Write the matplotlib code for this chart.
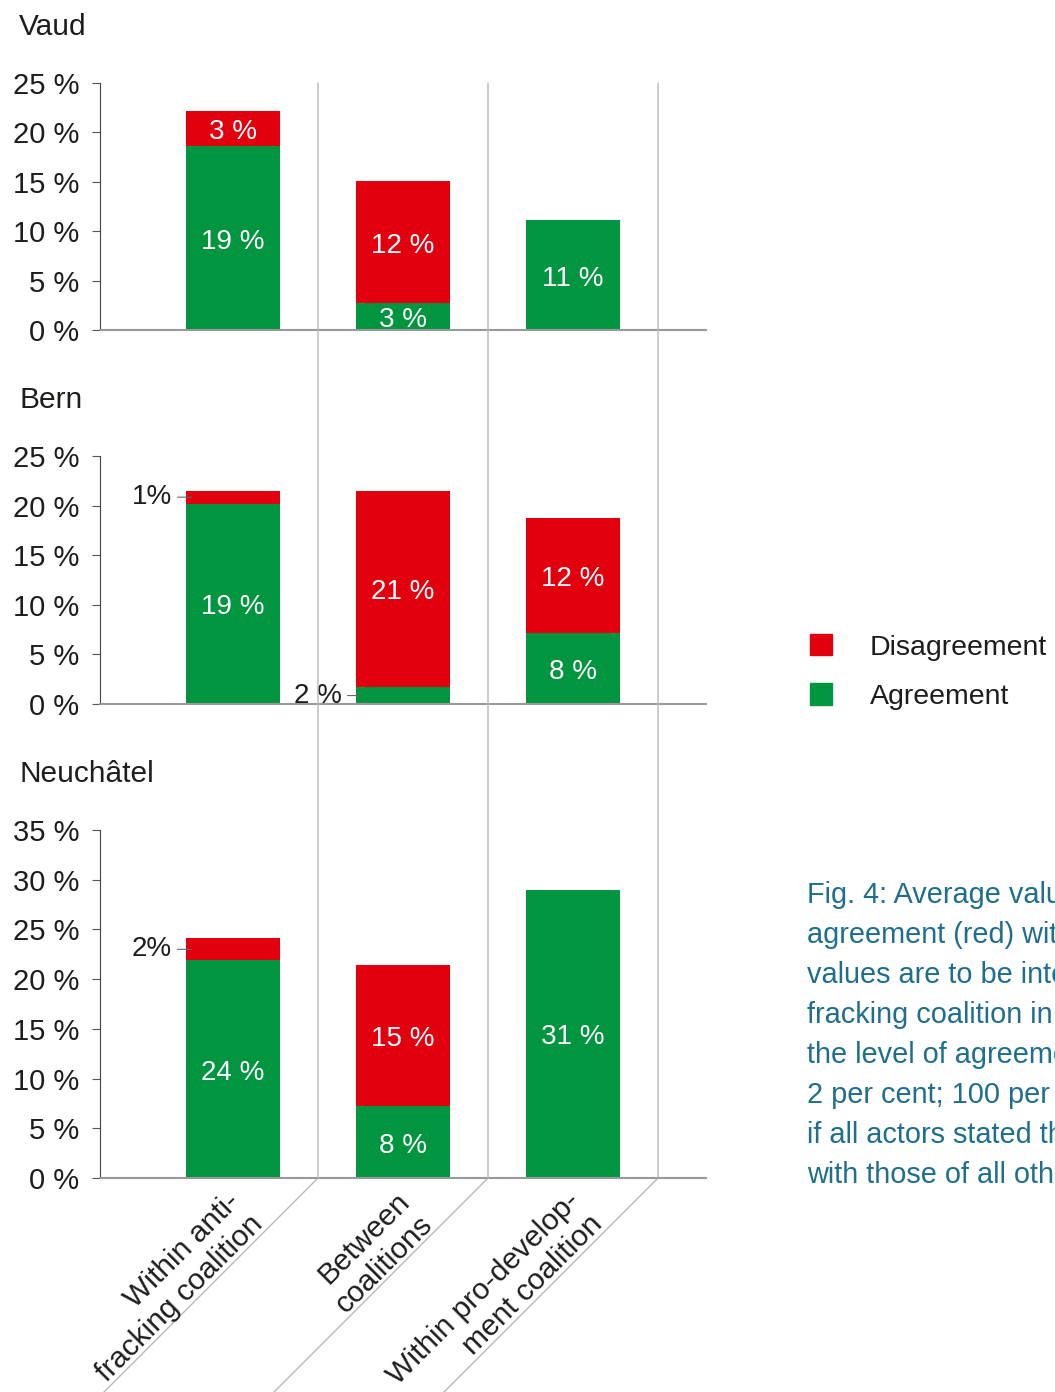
import matplotlib
matplotlib.use("Agg")
import matplotlib.pyplot as plt
from matplotlib.patches import Patch, ConnectionPatch
import numpy as np

plt.rcParams['font.family'] = ['Liberation Sans', 'DejaVu Sans']

# Data (percent)
regiones = ["Vaud", "Bern", "Neuchâtel"]
categorias = ["Within anti-\nfracking coalition", "Between\ncoalitions",
              "Within pro-develop-\nment coalition"]

acuerdo_vaud = [18.6, 2.7, 11.1]
desacuerdo_vaud = [3.6, 12.4, 0]
etiq_acuerdo_vaud = ["19 %", "3 %", "11 %"]
etiq_desacuerdo_vaud = ["3 %", "12 %", ""]

acuerdo_bern = [20.2, 1.7, 7.2]
desacuerdo_bern = [1.3, 19.8, 11.6]
etiq_acuerdo_bern = ["19 %", "2 %", "8 %"]
etiq_desacuerdo_bern = ["1%", "21 %", "12 %"]

acuerdo_neu = [21.9, 7.2, 29.0]
desacuerdo_neu = [2.2, 14.2, 0]
etiq_acuerdo_neu = ["24 %", "8 %", "31 %"]
etiq_desacuerdo_neu = ["2%", "15 %", ""]

ymax_paneles = [25, 25, 35]

leyenda = ["Disagreement", "Agreement"]
pie = ["Fig. 4: Average values",
       "agreement (red) within",
       "values are to be interpreted",
       "fracking coalition in",
       "the level of agreement",
       "2 per cent; 100 per cent",
       "if all actors stated their",
       "with those of all other"]

rojo = '#e2000f'
verde = '#00953e'
gris = '#b8b8b8'
texto = '#1d1d1b'

W, H = 1055, 1392
fig = plt.figure(figsize=(W / 100, H / 100), dpi=100)


def ejes_px(left, top, right, bottom):
    return fig.add_axes([left / W, 1 - bottom / H, (right - left) / W, (bottom - top) / H])


ax_v = ejes_px(100, 83, 706, 330)
ax_b = ejes_px(100, 456, 706, 704)
ax_n = ejes_px(100, 830, 706, 1178)
ejes = [ax_v, ax_b, ax_n]

datos = [
    (acuerdo_vaud, desacuerdo_vaud, etiq_acuerdo_vaud, etiq_desacuerdo_vaud),
    (acuerdo_bern, desacuerdo_bern, etiq_acuerdo_bern, etiq_desacuerdo_bern),
    (acuerdo_neu, desacuerdo_neu, etiq_acuerdo_neu, etiq_desacuerdo_neu),
]

x = np.arange(len(categorias))
ancho = 0.553

for ax, nombre, (acu, des, ea, ed), ymax in zip(ejes, regiones, datos, ymax_paneles):
    ax.bar(x, acu, width=ancho, color=verde, zorder=2)
    ax.bar(x, des, width=ancho, bottom=acu, color=rojo, zorder=2)
    ax.set_xlim(-0.782, 2.782)
    ax.set_ylim(0, ymax)
    ticks = np.arange(0, ymax + 1, 5)
    ax.set_yticks(ticks)
    ax.set_yticklabels([f"{t} %" for t in ticks])
    ax.set_xticks([])
    ax.spines['top'].set_visible(False)
    ax.spines['right'].set_visible(False)
    ax.spines['left'].set_color('#444444')
    ax.spines['left'].set_linewidth(0.8)
    ax.spines['bottom'].set_color('#999999')
    ax.spines['bottom'].set_linewidth(1.5)
    ax.spines['bottom'].set_zorder(3)
    ax.tick_params(axis='y', length=5.8, width=0.8, color='#555555', pad=9,
                   labelsize=21, labelcolor=texto)
    ax.patch.set_alpha(0)

    # etiquetas de los segmentos
    for i in x:
        for base, val, txt in [(0, acu[i], ea[i]), (acu[i], des[i], ed[i])]:
            if not txt:
                continue
            mid = base + val / 2
            if val >= 2.5:
                ax.annotate(txt, xy=(i, mid), xytext=(0, -2.5), textcoords='offset points',
                            ha='center', va='center', color='white', fontsize=20, zorder=4)
            else:
                ax.annotate(txt, xy=(i - ancho / 2 + 0.035, mid), xytext=(-14.4, 0),
                            textcoords='offset points', ha='right', va='center',
                            fontsize=20, color=texto, zorder=4,
                            arrowprops=dict(arrowstyle='-', color='#666666', lw=0.8,
                                            shrinkA=2, shrinkB=0))

    # titulo del panel
    pos = ax.get_position()
    fig.text(19 / W, pos.y1 + 56 / H, nombre, fontsize=21.5, color=texto, va='center')

# lineas separadoras entre categorias
for xs in x + 0.5:
    con = ConnectionPatch(xyA=(xs, ax_v.get_ylim()[1]), coordsA=ax_v.transData,
                          xyB=(xs, 0), coordsB=ax_n.transData, color=gris, lw=1, zorder=1)
    fig.add_artist(con)
    ax_n.annotate('', xy=(xs, 0), xytext=(-160, -160), textcoords='offset points',
                  annotation_clip=False,
                  arrowprops=dict(arrowstyle='-', color=gris, lw=1, shrinkA=0, shrinkB=0))

# categorias en diagonal
for i, cat in enumerate(categorias):
    ax_n.annotate(cat, xy=(i, 0), xytext=(-5.5, -6.5), textcoords='offset points',
                  rotation=45, rotation_mode='anchor', ha='right', va='top',
                  multialignment='right', fontsize=21.5, linespacing=1.2, color=texto,
                  annotation_clip=False)

# leyenda
handles = [Patch(color=rojo), Patch(color=verde)]
fig.legend(handles, leyenda, loc='upper left', bbox_to_anchor=(810 / W, 1 - 634 / H),
           frameon=False, fontsize=20.5, handlelength=0.78, handleheight=0.78,
           handletextpad=1.32, labelspacing=0.8, borderpad=0, borderaxespad=0,
           labelcolor=texto)

# pie de figura
for k, linea in enumerate(pie):
    fig.text(807 / W, 1 - (903 + 40 * k) / H, linea, color='#1f6e8c', fontsize=20.75, va='baseline')

fig.savefig('out.png', dpi=100)
